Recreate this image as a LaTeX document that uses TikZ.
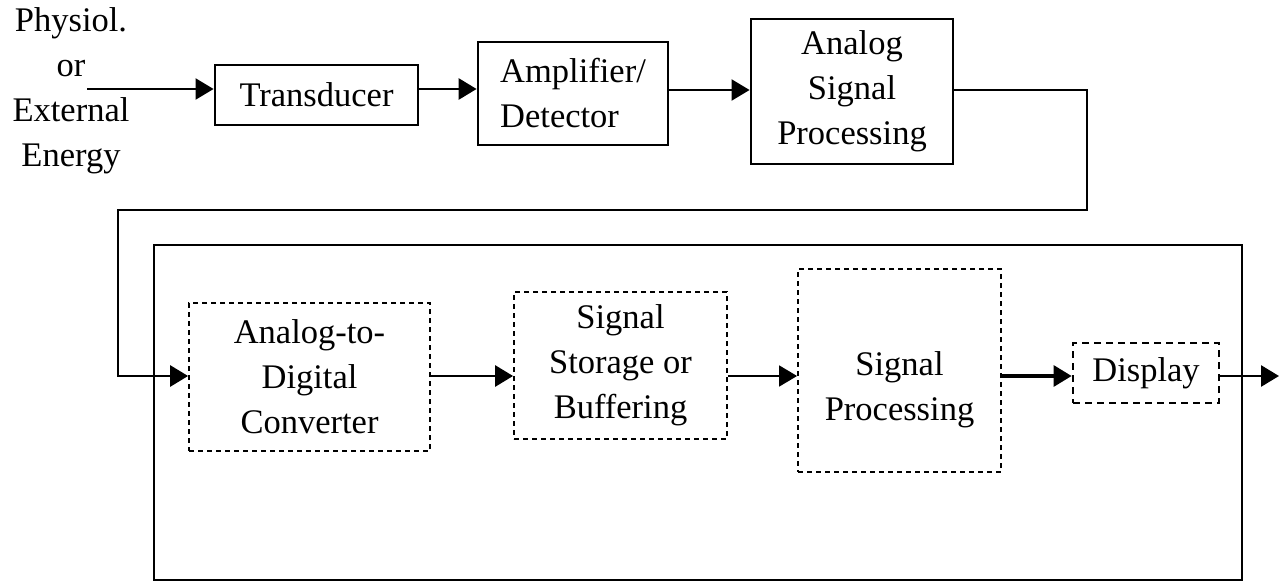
\documentclass[tikz,border=0pt]{standalone}
\usepackage{fontspec}
\setmainfont{Liberation Serif}
\usetikzlibrary{arrows.meta}
\begin{document}
\begin{tikzpicture}[x=1pt,y=-1pt,
  txt/.style={font=\fontsize{34.5}{45}\selectfont, align=center, inner sep=0pt},
  solidbox/.style={draw, line width=2.8pt, txt},
  dashbox/.style={draw, line width=1.8pt, dash pattern=on 5pt off 4pt, txt},
  conn/.style={line width=2.8pt, -{Triangle[length=18pt,width=21pt]}},
]
\useasboundingbox (0,0) rectangle (1280,583);
% digital section container
\node[draw, line width=2.8pt, minimum width=1088pt, minimum height=335pt, inner sep=0pt] (dig) at (698,412.5) {};
% left label
\node[txt] (src) at (71,91) {Physiol.\\or\\External\\Energy};
% top row
\node[solidbox, minimum width=203pt, minimum height=60pt] (tr) at (316.5,95) {Transducer};
\node[solidbox, align=left, minimum width=190pt, minimum height=103pt] (amp) at (573,93.5) {Amplifier/\\Detector};
\node[solidbox, minimum width=202pt, minimum height=145pt] (asp) at (852,91.5) {Analog\\Signal\\Processing};
% bottom row
\node[dashbox, minimum width=241pt, minimum height=148pt] (adc) at (309.5,377) {Analog-to-\\Digital\\Converter};
\node[dashbox, minimum width=213pt, minimum height=147pt] (sto) at (620.5,365.5) {Signal\\Storage or\\Buffering};
\node[dashbox, minimum width=203pt, minimum height=203pt] (sp) at (899.5,370.5) {};
\node[txt] (spt) at (899.5,390) {Signal\\Processing};
\node[dashbox, line width=2.8pt, dash pattern=on 7pt off 5pt, minimum width=146pt, minimum height=60pt] (dis) at (1146,373) {Display};
% connectors
\coordinate (in) at (87,89);
\coordinate (c1) at (1087,90);
\coordinate (c2) at (1087,210);
\coordinate (c3) at (118,210);
\coordinate (c4) at (118,376);
\coordinate (out) at (1279,376);
\draw[conn, line width=2.2pt] (in) -- (in -| tr.west);
\draw[conn] (tr.east |- in) -- (amp.west |- in);
\draw[conn, line width=2.2pt] (amp.east |- c1) -- (asp.west |- c1);
\draw[conn] (asp.east |- c1) -- (c1) -- (c2) -- (c3) -- (c4) -- (c4 -| adc.west);
\draw[conn] (adc.east |- c4) -- (sto.west |- c4);
\draw[conn, line width=1.6pt] (sto.east |- c4) -- (sp.west |- c4);
\draw[conn, line width=3.2pt] (sp.east |- c4) -- (dis.west |- c4);
\draw[conn] (dis.east |- out) -- (out);
\end{tikzpicture}
\end{document}
